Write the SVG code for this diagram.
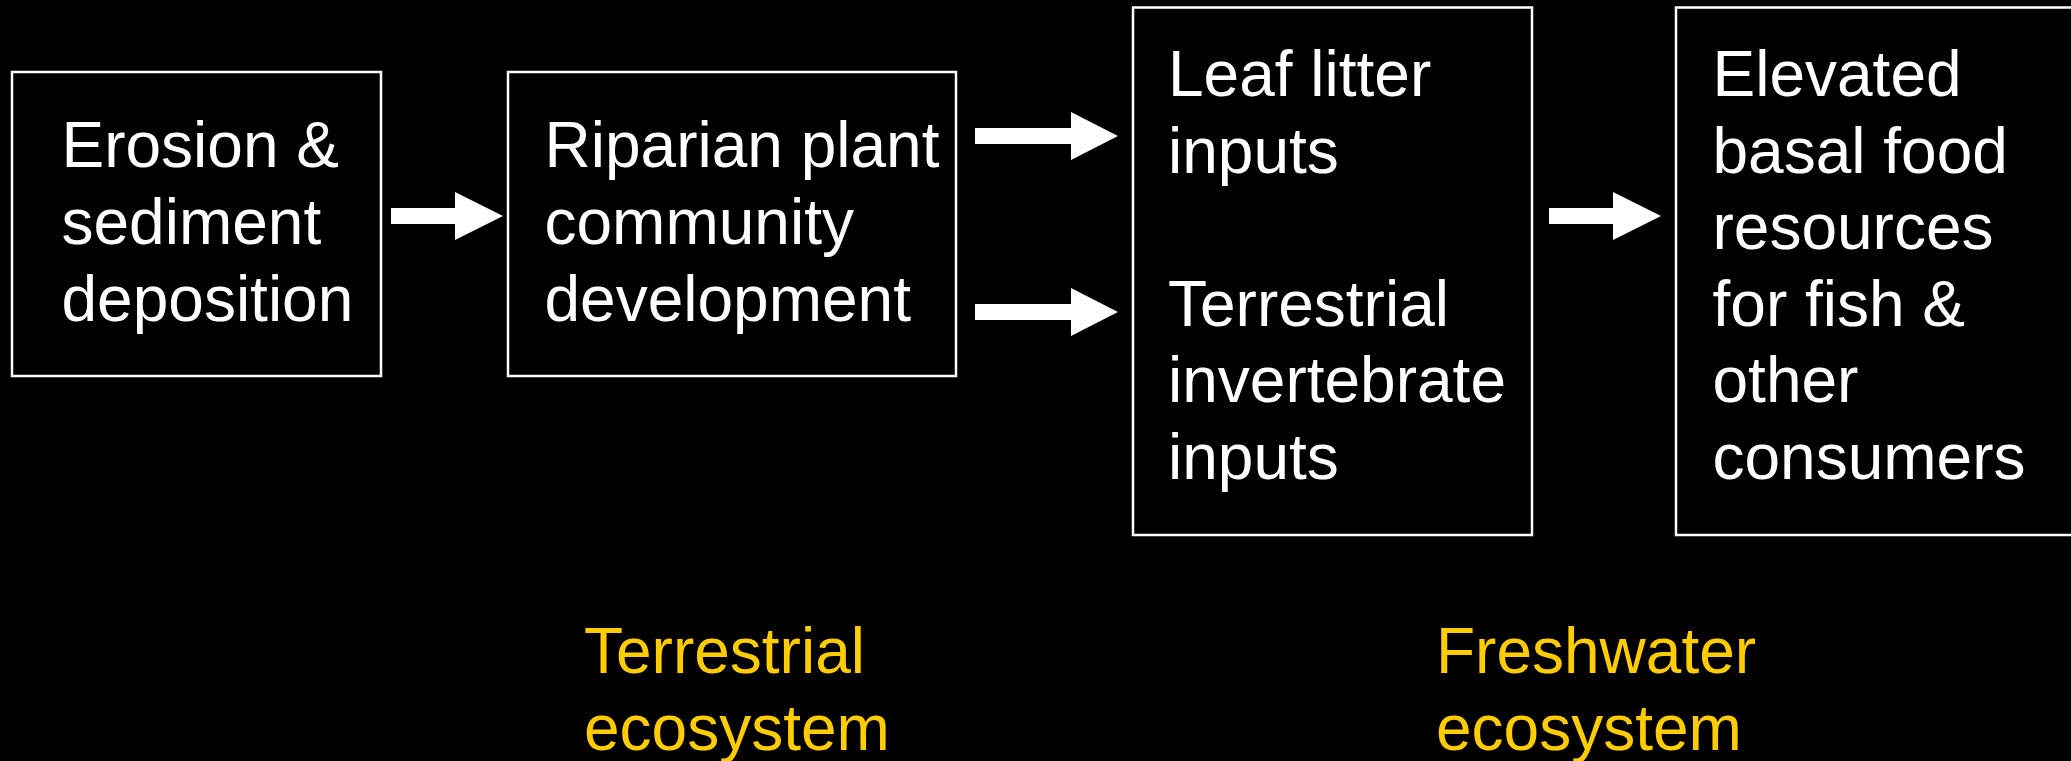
<svg xmlns="http://www.w3.org/2000/svg" width="2071" height="761" viewBox="0 0 2071 761">
  <style>
    .box { fill: #000; stroke: #fff; stroke-width: 2.5; }
    .t { font-family: "Liberation Sans", Arial, sans-serif; font-size: 64px; fill: #fff; }
    .y { font-family: "Liberation Sans", Arial, sans-serif; font-size: 64px; fill: #FFCC00; }
    .arrow { fill: #fff; stroke: none; }
  </style>
  <rect x="0" y="0" width="2071" height="761" fill="#000"/>

  <g id="node-erosion">
    <rect class="box" x="12" y="72" width="369" height="304"/>
    <text class="t" x="61.5" y="167">Erosion &amp;</text>
    <text class="t" x="61.5" y="244">sediment</text>
    <text class="t" x="61.5" y="321">deposition</text>
  </g>

  <g id="node-riparian">
    <rect class="box" x="508" y="72" width="448" height="304"/>
    <text class="t" x="544.5" y="167">Riparian plant</text>
    <text class="t" x="544.5" y="244">community</text>
    <text class="t" x="544.5" y="321">development</text>
  </g>

  <g id="node-inputs">
    <rect class="box" x="1133" y="7.5" width="399" height="527.5"/>
    <text class="t" x="1168" y="96">Leaf litter</text>
    <text class="t" x="1168" y="172.6">inputs</text>
    <text class="t" x="1168" y="325.8">Terrestrial</text>
    <text class="t" x="1168" y="402.4">invertebrate</text>
    <text class="t" x="1168" y="479">inputs</text>
  </g>

  <g id="node-elevated">
    <rect class="box" x="1676" y="7.5" width="410" height="527.5"/>
    <text class="t" x="1712.5" y="96">Elevated</text>
    <text class="t" x="1712.5" y="172.6">basal food</text>
    <text class="t" x="1712.5" y="249.2">resources</text>
    <text class="t" x="1712.5" y="325.8">for fish &amp;</text>
    <text class="t" x="1712.5" y="402.4">other</text>
    <text class="t" x="1712.5" y="479">consumers</text>
  </g>

  <g id="connectors">
    <path class="arrow" d="M391,208 H455 V192 L503,216 L455,240 V224 H391 Z"/>
    <path class="arrow" d="M975,128 H1071 V112 L1118,136 L1071,160 V144 H975 Z"/>
    <path class="arrow" d="M975,304 H1071 V288 L1118,312 L1071,336 V320 H975 Z"/>
    <path class="arrow" d="M1549,208 H1613 V192 L1661,216 L1613,240 V224 H1549 Z"/>
  </g>

  <g id="label-terrestrial">
    <text class="y" x="584" y="673">Terrestrial</text>
    <text class="y" x="584" y="750">ecosystem</text>
  </g>

  <g id="label-freshwater">
    <text class="y" x="1436" y="673">Freshwater</text>
    <text class="y" x="1436" y="750">ecosystem</text>
  </g>
</svg>
